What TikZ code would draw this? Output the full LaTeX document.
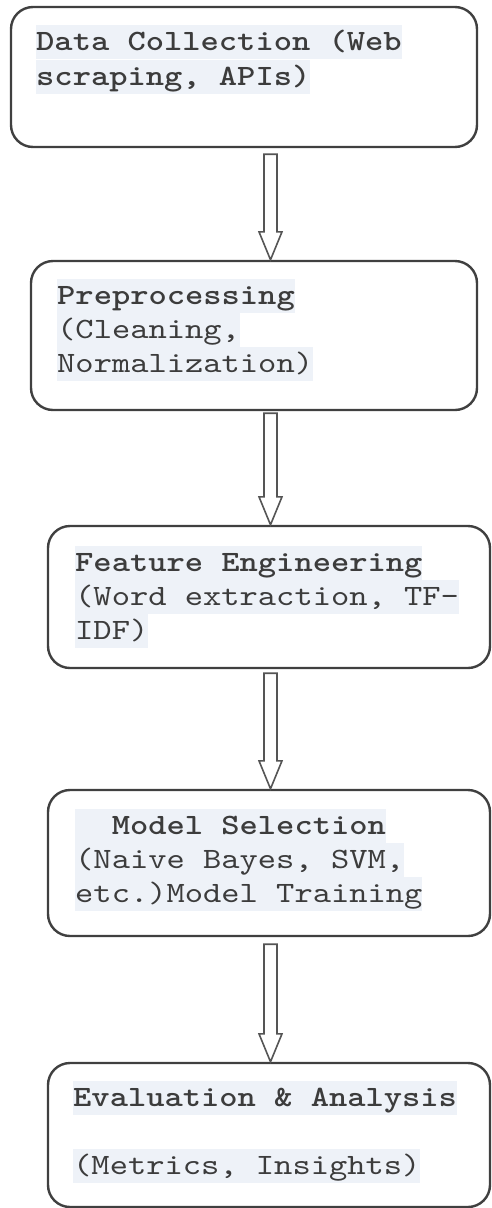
\documentclass[tikz,border=0pt]{standalone}
\usepackage{fontspec}
\newfontfamily\cour{lmmono10-regular.otf}[BoldFont=lmmonolt10-bold.otf, FakeStretch=1.18]
\usetikzlibrary{calc}
\definecolor{hl}{HTML}{EEF2F8}
\definecolor{txt}{HTML}{3C3C3C}
\definecolor{bord}{HTML}{404040}
\definecolor{arr}{HTML}{555555}
\tikzset{
  stage/.style={draw=bord, line width=2.4pt, rounded corners=22pt, inner sep=0pt, fill=white},
  ln/.style={anchor=base west, inner sep=0pt, fill=hl, text height=25pt, text depth=9pt, text=txt, font=\fontsize{29.5}{35}\cour},
  bln/.style={ln, font=\fontsize{29.5}{35}\cour\bfseries},
  harrow/.style={draw=arr, line width=1.6pt, fill=white, line join=miter},
}
\begin{document}
\begin{tikzpicture}[x=1pt,y=-1pt]
\useasboundingbox (0,0) rectangle (491,1208);
% boxes
\node[stage, minimum width=466pt, minimum height=140pt] (b1) at (244,77) {};
\node[stage, minimum width=446pt, minimum height=149pt] (b2) at (254,335.5) {};
\node[stage, minimum width=442pt, minimum height=142pt] (b3) at (269,597) {};
\node[stage, minimum width=442pt, minimum height=146pt] (b4) at (269,863) {};
\node[stage, minimum width=442pt, minimum height=144pt] (b5) at (269,1135) {};
% arrows
\foreach \fa/\fb/\fg in {b1/b2/6, b2/b3/2, b3/b4/4, b4/b5/7}{
  \draw[harrow] let \p1=(\fa.south), \p2=(\fb.north) in
    (264pt,\y1-\fg pt) -- (277pt,\y1-\fg pt) -- (277pt,\y2+28pt) -- (282pt,\y2+28pt)
    -- (270.5pt,\y2) -- (259pt,\y2+28pt) -- (264pt,\y2+28pt) -- cycle;
}
% texts
\node[bln] (t1a) at (36,50) {Data Collection (Web};
\node[bln] (t1b) at (36,85) {scraping, APIs)};
\node[bln] (t2a) at (57,304) {Preprocessing};
\node[ln] (t2b) at (57,338) {(Cleaning,};
\node[ln] (t2c) at (57,372) {Normalization)};
\node[bln] (t3a) at (75,571) {Feature Engineering};
\node[ln] (t3b) at (75,605) {(Word extraction, TF-};
\node[ln] (t3c) at (75,639) {IDF)};
\node[bln] (t4a) at (75,834) {\ \ Model Selection};
\node[ln] (t4b) at (75,868) {(Naive Bayes, SVM,};
\node[ln] (t4c) at (75,902) {etc.)Model Training};
\node[bln] (t5a) at (73,1106) {Evaluation \& Analysis};
\node[ln] (t5b) at (73,1174) {(Metrics, Insights)};
\end{tikzpicture}
\end{document}
